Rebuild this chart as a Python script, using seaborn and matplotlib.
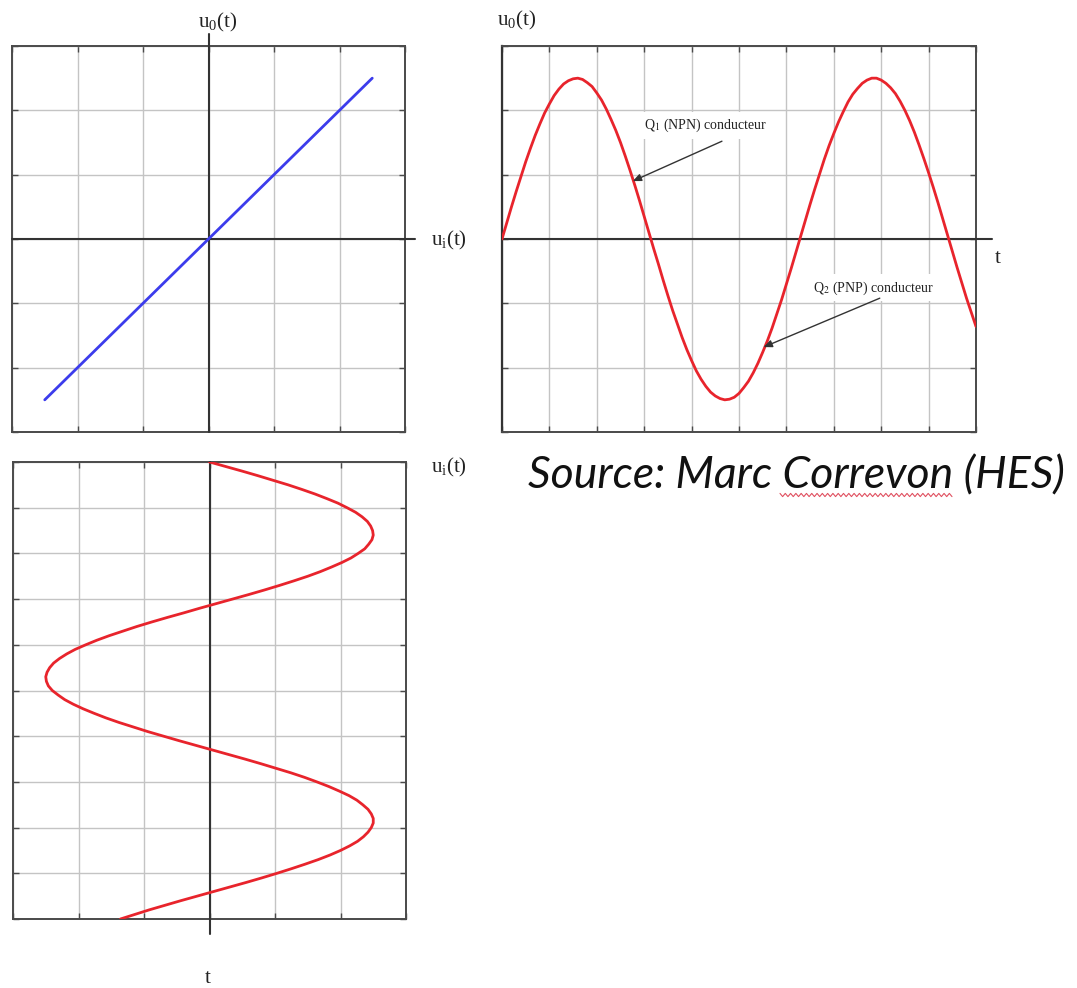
import numpy as np
import pandas as pd
import matplotlib
matplotlib.use("Agg")
import matplotlib.pyplot as plt
from matplotlib.lines import Line2D
import seaborn as sns

# ---------------- data ----------------
t_values = [0.0, 0.1, 0.2, 0.3, 0.4, 0.5, 0.6, 0.7, 0.8, 0.9,
            1.0, 1.1, 1.2, 1.3, 1.4, 1.5, 1.6, 1.7, 1.8, 1.9,
            2.0, 2.1, 2.2, 2.3, 2.4, 2.5, 2.6, 2.7, 2.8, 2.9,
            3.0, 3.1, 3.2, 3.3, 3.4, 3.5, 3.6, 3.7, 3.8, 3.9,
            4.0, 4.1, 4.2, 4.3, 4.4, 4.5, 4.6, 4.7, 4.8, 4.9,
            5.0, 5.1, 5.2, 5.3, 5.4, 5.5, 5.6, 5.7, 5.8, 5.9,
            6.0, 6.1, 6.2, 6.3, 6.4, 6.5, 6.6, 6.7, 6.8, 6.9,
            7.0, 7.1, 7.2, 7.3, 7.4, 7.5, 7.6, 7.7, 7.8, 7.9,
            8.0, 8.1, 8.2, 8.3, 8.4, 8.5, 8.6, 8.7, 8.8, 8.9,
            9.0, 9.1, 9.2, 9.3, 9.4, 9.5, 9.6, 9.7, 9.8, 9.9, 10.0]
ui_values = [0.00, 0.25, 0.50, 0.74, 0.97, 1.20, 1.41, 1.61, 1.79, 1.96,
             2.10, 2.23, 2.33, 2.41, 2.46, 2.49, 2.50, 2.48, 2.43, 2.37,
             2.27, 2.16, 2.02, 1.86, 1.69, 1.50, 1.29, 1.07, 0.84, 0.60,
             0.35, 0.10, -0.15, -0.39, -0.64, -0.88, -1.11, -1.32, -1.53, -1.72,
             -1.89, -2.05, -2.18, -2.29, -2.38, -2.44, -2.48, -2.50, -2.49, -2.46,
             -2.40, -2.31, -2.21, -2.08, -1.93, -1.76, -1.58, -1.38, -1.16, -0.94,
             -0.70, -0.46, -0.21, 0.04, 0.29, 0.54, 0.78, 1.01, 1.24, 1.45,
             1.64, 1.82, 1.98, 2.13, 2.25, 2.34, 2.42, 2.47, 2.50, 2.50,
             2.47, 2.42, 2.35, 2.26, 2.14, 2.00, 1.84, 1.66, 1.46, 1.25,
             1.03, 0.80, 0.56, 0.31, 0.06, -0.19, -0.44, -0.68, -0.92, -1.14, -1.36]
uo_values = ui_values  # output follows input (gain 1)

transfer_ui = [-2.5, 0.0, 2.5]
transfer_uo = [-2.5, 0.0, 2.5]

q1_label = r"Q$_1$ (NPN) conducteur"
q2_label = r"Q$_2$ (PNP) conducteur"
q1_text_pos = (4.3, 1.76)
q1_arrow_tail = (4.64, 1.52)
q1_arrow_head = (2.76, 0.90)
q2_text_pos = (7.83, -0.76)
q2_arrow_tail = (7.97, -0.92)
q2_arrow_head = (5.52, -1.68)

source_text = "Source: Marc Correvon (HES)"

# ---------------- style ----------------
sns.set_style("white")
plt.rcParams["font.family"] = ["Liberation Serif", "DejaVu Serif"]
plt.rcParams["mathtext.fontset"] = "stix"

W, H = 1077, 988
fig = plt.figure(figsize=(W / 100, H / 100), dpi=100)
fig.patch.set_facecolor("white")


def ax_rect(l, t, r, b):
    return [l / W, 1 - b / H, (r - l) / W, (b - t) / H]


def fpos(x, y):
    return x / W, 1 - y / H


GRID_C = "#c4c4c4"
SPINE_C = "#4a4a4a"
AXIS_C = "#333333"
RED = "#e8242c"
BLUE = "#3c3cec"


def style_axes(ax, xt, yt):
    ax.set_xticks(xt)
    ax.set_yticks(yt)
    ax.set_xticklabels([])
    ax.set_yticklabels([])
    ax.tick_params(direction="in", length=4, width=1, color=SPINE_C,
                   top=True, right=True, bottom=True, left=True)
    ax.grid(True, color=GRID_C, lw=1.0, ls="-")
    ax.set_axisbelow(True)
    for s in ax.spines.values():
        s.set_color(SPINE_C)
        s.set_linewidth(1.4)
        s.set_visible(True)
    ax.set_xlabel("")
    ax.set_ylabel("")


line_kw = dict(lw=2.0, zorder=5, solid_joinstyle="round", solid_capstyle="round")

# ---- top-left: transfer characteristic ----
ax1 = fig.add_axes(ax_rect(12, 46, 405, 432))
sns.lineplot(x=transfer_ui, y=transfer_uo, ax=ax1, color=BLUE, **line_kw)
ax1.set_xlim(-3, 3)
ax1.set_ylim(-3, 3)
style_axes(ax1, range(-3, 4), range(-3, 4))
ax1.axhline(0, xmin=0, xmax=1.026, color=AXIS_C, lw=1.5, clip_on=False, zorder=3)
ax1.axvline(0, ymin=0, ymax=1.03, color=AXIS_C, lw=1.5, clip_on=False, zorder=3)

# ---- top-right: output vs time ----
ax2 = fig.add_axes(ax_rect(502, 46, 976, 432))
df = pd.DataFrame({"t": t_values, "uo": uo_values, "ui": ui_values})
sns.lineplot(data=df, x="t", y="uo", ax=ax2, color=RED, estimator=None, **line_kw)
ax2.set_xlim(0, 10)
ax2.set_ylim(-3, 3)
style_axes(ax2, range(0, 11), range(-3, 4))
ax2.axhline(0, xmin=0, xmax=1.034, color=AXIS_C, lw=1.5, clip_on=False, zorder=3)
ax2.spines["left"].set_color(AXIS_C)
ax2.spines["left"].set_linewidth(1.6)

ann_kw = dict(fontsize=10, ha="center", va="center", color="#222222",
              bbox=dict(boxstyle="square,pad=0.35", fc="white", ec="none"),
              zorder=6)
ax2.text(*q1_text_pos, q1_label, **ann_kw)
ax2.text(*q2_text_pos, q2_label, **ann_kw)
arrow_kw = dict(arrowstyle="-|>,head_length=0.5,head_width=0.22",
                color="#333333", lw=1.0, shrinkA=0, shrinkB=0)
ax2.annotate("", xy=q1_arrow_head, xytext=q1_arrow_tail, arrowprops=arrow_kw,
             zorder=7)
ax2.annotate("", xy=q2_arrow_head, xytext=q2_arrow_tail, arrowprops=arrow_kw,
             zorder=7)

# ---- bottom-left: input vs time (time downward) ----
ax3 = fig.add_axes(ax_rect(13, 462, 406, 919))
sns.lineplot(data=df, x="ui", y="t", ax=ax3, color=RED, estimator=None,
             orient="y", **line_kw)
ax3.set_xlim(-3, 3)
ax3.set_ylim(10, 0)
style_axes(ax3, range(-3, 4), range(0, 11))
ax3.axvline(0, ymin=-0.032, ymax=1.0, color=AXIS_C, lw=1.5, clip_on=False, zorder=3)

# ---------------- axis labels ----------------
lab_kw = dict(fontsize=15, ha="center", va="center", color="#222222")
fig.text(*fpos(218, 22), r"$\mathregular{u_0(t)}$", **lab_kw)
fig.text(*fpos(449, 240), r"$\mathregular{u_i(t)}$", **lab_kw)
fig.text(*fpos(517, 20), r"$\mathregular{u_0(t)}$", **lab_kw)
fig.text(*fpos(998, 258), r"$\mathregular{t}$", **lab_kw)
fig.text(*fpos(449, 467), r"$\mathregular{u_i(t)}$", **lab_kw)
fig.text(*fpos(208, 978), r"$\mathregular{t}$", **lab_kw)

# ---------------- source note ----------------
fig.text(*fpos(528, 488), source_text, fontsize=32, style="italic",
         family=["Lato", "DejaVu Sans"], ha="left", va="baseline", color="#111111")
# spell-check squiggle under "Correvon"
sx = np.linspace(780, 952, 66)
sy = 495 + 1.6 * np.where(np.arange(66) % 2 == 0, -1, 1)
fig.add_artist(Line2D(sx / W, 1 - sy / H, color="#e05060", lw=0.8,
                      transform=fig.transFigure))

fig.savefig("out.png", dpi=100)
